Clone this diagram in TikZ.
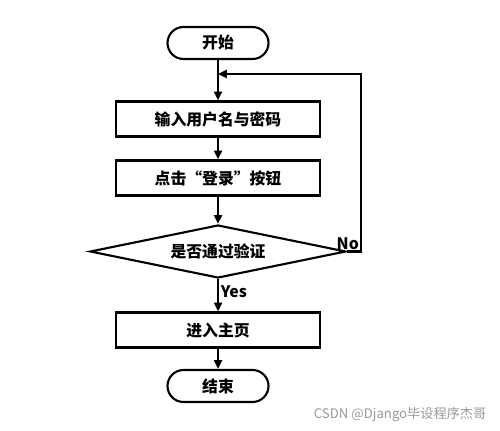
\documentclass[tikz,border=0pt]{standalone}
\usepackage{fontspec}
\newfontfamily\cjk{Noto Sans CJK SC}
\usetikzlibrary{arrows.meta,positioning,shapes.geometric}

\begin{document}
\begin{tikzpicture}[every node/.style={font=\cjk\bfseries\fontsize{9}{10}\selectfont},
  term/.style={draw, line width=1.2pt, rounded corners=0.32cm, minimum width=2.02cm, minimum height=0.64cm},
  bx/.style={draw, line width=1.2pt, minimum width=4.08cm, minimum height=0.7cm},
  dec/.style={diamond, draw, line width=1.2pt, aspect=4.8, inner sep=0pt, minimum width=5.12cm, minimum height=1.06cm},
  arr/.style={line width=1.2pt, -{Triangle[length=5pt,width=4.5pt]}}]
\useasboundingbox (0,0) rectangle (10,8.6);
% Flow
\node[term] (start) at (4.36,7.74) {开始};
\node[bx] (input) at (4.36,6.22) {输入用户名与密码};
\node[bx] (click) at (4.36,5.04) {点击“登录”按钮};
\node[dec] (check) at (4.36,3.57) {是否通过验证};
\node[bx] (home) at (4.36,2.0) {进入主页};
\node[term] (stop) at (4.36,0.88) {结束};
\coordinate (join) at (4.36,7.12);
\coordinate (corner) at (7.22,3.57);
\draw[line width=1.2pt] (start) -- (join);
\draw[arr] (join) -- (input);
\draw[arr] (input) -- (click);
\draw[arr] (click) -- (check);
\draw[arr] (check) -- node[right, inner sep=1pt, pos=0.4] (yes) {Yes} (home);
\draw[arr] (home) -- (stop);
% Loop back
\draw[arr] (check.east) -- (corner) |- (join);
\node[above left, inner sep=1pt] (no) at (corner) {No};
% Watermark
\node[font=\cjk\fontsize{7.5}{9}\selectfont, text=black!40, anchor=east] (mark) at (9.85,0.3) {CSDN @Django毕设程序杰哥};
\end{tikzpicture}
\end{document}
